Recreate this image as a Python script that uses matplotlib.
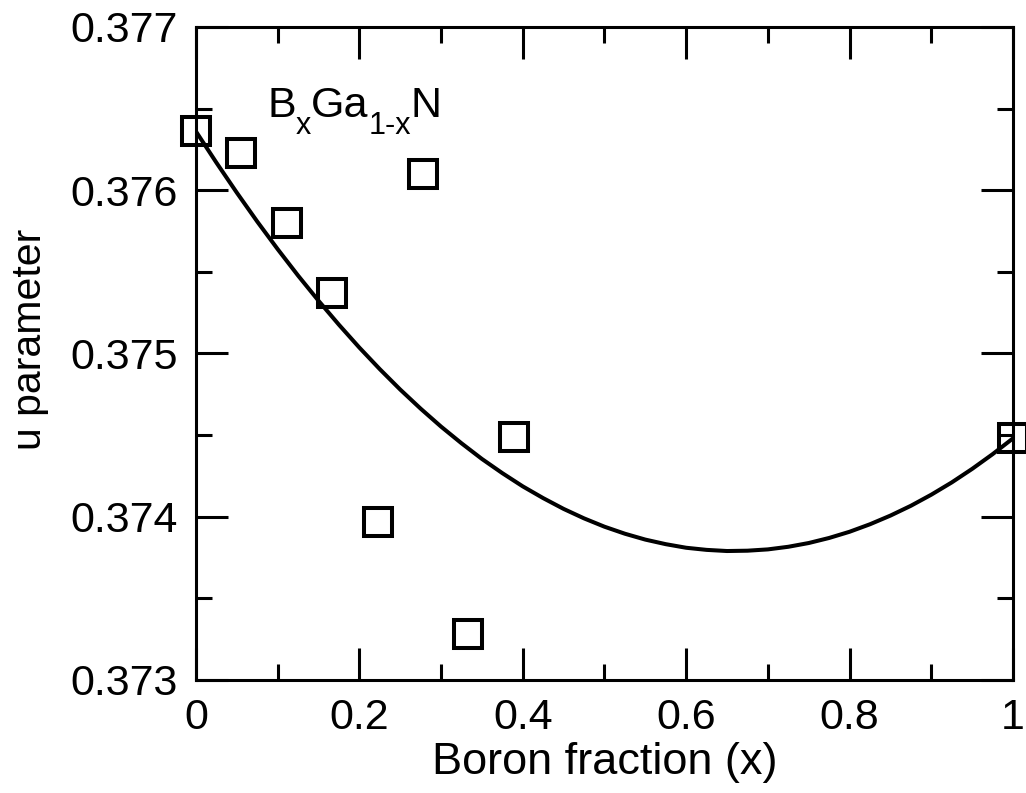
import numpy as np
import matplotlib.pyplot as plt
from matplotlib.ticker import MultipleLocator, FixedLocator, FixedFormatter

plt.rcParams['font.family'] = ['Liberation Sans', 'DejaVu Sans']

# computed u parameter for B_xGa_(1-x)N
x_pts = [0.0, 0.0556, 0.1111, 0.1667, 0.2222, 0.2778, 0.3333, 0.3889, 1.0]
u_pts = [0.37636, 0.37623, 0.37580, 0.37537, 0.37397, 0.37610, 0.37328, 0.37449, 0.37448]

# fitted bowing curve
x_fit = [0.0, 0.025, 0.05, 0.075, 0.10, 0.125, 0.15, 0.175, 0.20, 0.225,
         0.25, 0.275, 0.30, 0.325, 0.35, 0.375, 0.40, 0.425, 0.45, 0.475,
         0.50, 0.525, 0.55, 0.575, 0.60, 0.625, 0.65, 0.675, 0.70, 0.725,
         0.75, 0.775, 0.80, 0.825, 0.85, 0.875, 0.90, 0.925, 0.95, 0.975, 1.0]
u_fit = [0.376360, 0.376169, 0.375985, 0.375808, 0.375639, 0.375477, 0.375323,
         0.375176, 0.375036, 0.374904, 0.374779, 0.374662, 0.374552, 0.374450,
         0.374354, 0.374267, 0.374186, 0.374114, 0.374048, 0.373990, 0.373939,
         0.373896, 0.373860, 0.373832, 0.373810, 0.373797, 0.373790, 0.373792,
         0.373800, 0.373816, 0.373839, 0.373870, 0.373908, 0.373954, 0.374007,
         0.374067, 0.374135, 0.374210, 0.374293, 0.374383, 0.374480]

x_ticks = [0, 0.2, 0.4, 0.6, 0.8, 1.0]
x_ticklabels = ['0', '0.2', '0.4', '0.6', '0.8', '1']
y_ticks = [0.373, 0.374, 0.375, 0.376, 0.377]
y_ticklabels = ['0.373', '0.374', '0.375', '0.376', '0.377']

# formula label: (text, fontsize, baseline drop in px)
formula = [('B', 31, 0), ('x', 22, 17), ('Ga', 31, 0), ('1-x', 22, 17), ('N', 31, 0)]

fig = plt.figure(figsize=(10.26, 7.93), dpi=100)
ax = fig.add_axes([0.191, 0.1425, 0.7963, 0.8235])

ax.plot(x_fit, u_fit, '-', color='black', lw=2.9)
ax.plot(x_pts, u_pts, 's', mfc='none', mec='black', mew=2.9, ms=19.5, clip_on=False)

ax.set_xlim(0, 1)
ax.set_ylim(0.373, 0.377)
ax.xaxis.set_major_locator(FixedLocator(x_ticks))
ax.xaxis.set_major_formatter(FixedFormatter(x_ticklabels))
ax.xaxis.set_minor_locator(MultipleLocator(0.1))
ax.yaxis.set_major_locator(FixedLocator(y_ticks))
ax.yaxis.set_major_formatter(FixedFormatter(y_ticklabels))
ax.yaxis.set_minor_locator(MultipleLocator(0.0005))

ax.tick_params(which='both', direction='in', top=True, right=True, width=2.2,
               labelsize=31)
ax.tick_params(which='major', length=23, pad=13)
ax.tick_params(which='minor', length=11.5)
for s in ax.spines.values():
    s.set_linewidth(2.2)

ax.set_xlabel('Boron fraction (x)', fontsize=32.5, labelpad=3)
ax.set_ylabel('u parameter', fontsize=29.5)
ax.yaxis.set_label_coords(-0.180, 0.521)

# chain the formula pieces so the subscripts sit low like the original
renderer = fig.canvas.get_renderer()
x0, y0 = ax.transData.transform((0.087, 0.37645))
for txt, size, drop in formula:
    t = fig.text(x0, y0 - drop, txt, fontsize=size, ha='left', va='baseline',
                 transform=None)
    x0 += t.get_window_extent(renderer).width

fig.savefig('out.png', dpi=100)
